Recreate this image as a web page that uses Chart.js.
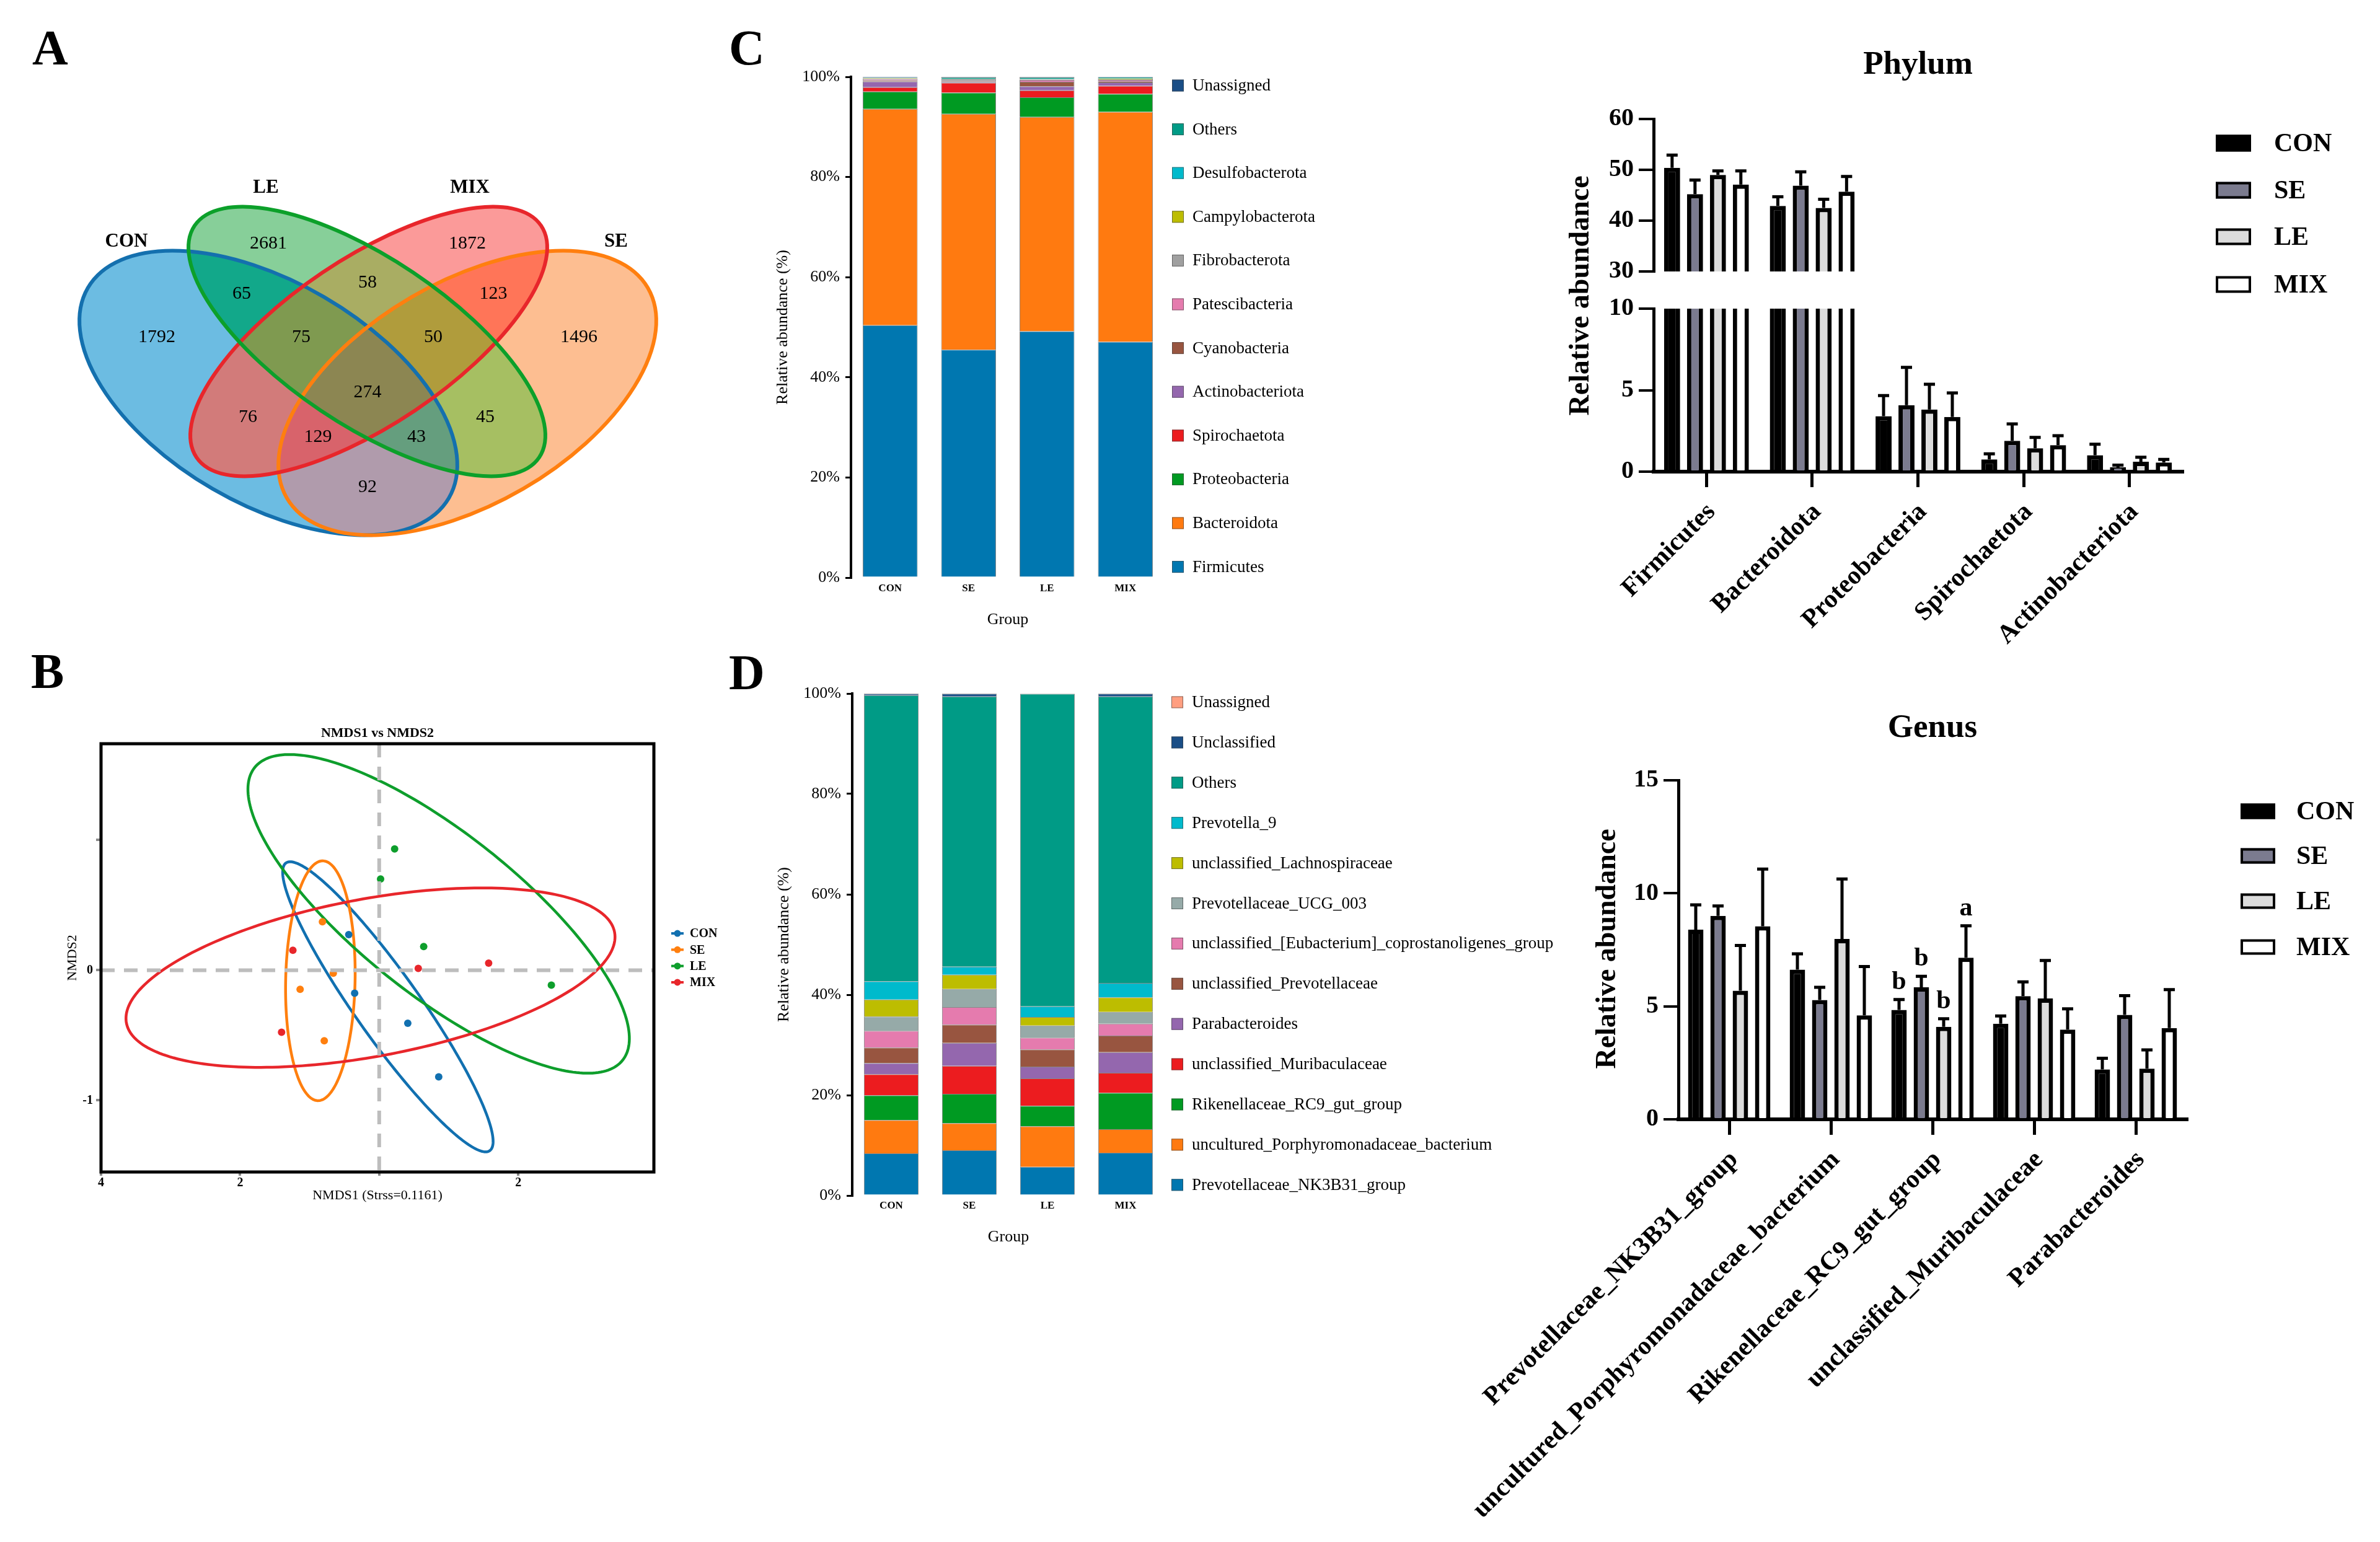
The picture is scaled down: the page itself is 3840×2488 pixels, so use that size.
<!DOCTYPE html>
<html>
<head>
<meta charset="utf-8">
<title>Gut microbiota composition</title>
<script src="https://cdn.jsdelivr.net/npm/chart.js@4.4.1/dist/chart.umd.min.js"></script>
<style>
html,body{margin:0;padding:0;background:#fff;}
#page{position:relative;width:3840px;height:2488px;background:#fff;overflow:hidden;}
#page canvas{position:absolute;}
.panel{position:absolute;font-family:'Liberation Serif','Times New Roman',serif;font-weight:bold;font-size:80px;line-height:80px;color:#000;}
</style>
</head>
<body>
<div id="page">
  <canvas id="venn" width="1150" height="1000" style="left:0px;top:0px;width:1150px;height:1000px"></canvas>
  <canvas id="phylumStack" width="1350" height="1050" style="left:1150px;top:0px;width:1350px;height:1050px"></canvas>
  <canvas id="genusStack" width="1400" height="1000" style="left:1150px;top:1050px;width:1400px;height:1000px"></canvas>
  <canvas id="phylumLow" width="1540" height="1100" style="left:2300px;top:0px;width:1540px;height:1100px"></canvas>
  <canvas id="phylumHigh" width="1540" height="470" style="left:2300px;top:0px;width:1540px;height:470px"></canvas>
  <canvas id="genusBars" width="1540" height="1368" style="left:2300px;top:1120px;width:1540px;height:1368px"></canvas>
  <canvas id="nmds" width="1180" height="950" style="left:0px;top:1050px;width:1180px;height:950px"></canvas>
  <div class="panel" style="left:52px;top:37px">A</div>
  <div class="panel" style="left:50px;top:1043px">B</div>
  <div class="panel" style="left:1176px;top:37px">C</div>
  <div class="panel" style="left:1176px;top:1045px">D</div>
</div>
<script>
// ===================== DATA =====================
const groups = ['CON', 'SE', 'LE', 'MIX'];

// A: Venn diagram (OTU counts)
const vennSets = ['CON', 'LE', 'MIX', 'SE'];
const vennRegions = ['CON', 'LE', 'MIX', 'SE', 'CON&LE', 'LE&MIX', 'MIX&SE', 'LE&SE', 'CON&MIX', 'CON&SE',
                     'CON&LE&MIX', 'LE&MIX&SE', 'CON&MIX&SE', 'CON&LE&SE', 'CON&LE&MIX&SE'];
const vennCounts = [1792, 2681, 1872, 1496, 65, 58, 123, 45, 76, 92, 75, 50, 129, 43, 274];

// B: NMDS
const nmdsCON = [[-0.438, 0.274], [-0.353, -0.176], [0.411, -0.407], [0.856, -0.819]];
const nmdsSE  = [[-0.816, 0.372], [-0.660, -0.023], [-1.137, -0.147], [-0.790, -0.542]];
const nmdsLE  = [[0.222, 0.932], [0.020, 0.701], [0.640, 0.182], [2.476, -0.115]];
const nmdsMIX = [[-1.241, 0.153], [0.562, 0.014], [1.574, 0.055], [-1.404, -0.476]];
// confidence ellipses: centre x, centre y, semi-axis 1 (dx, dy), semi-axis 2 (dx, dy)
const nmdsEllipseCON = [0.125, -0.281, 1.465, -1.105, -0.378, -0.143];
const nmdsEllipseSE  = [-0.846, -0.081, 0.036, 0.921, 0.499, -0.005];
const nmdsEllipseLE  = [0.855, 0.433, 2.646, -1.124, -0.721, -0.485];
const nmdsEllipseMIX = [-0.125, -0.057, 3.510, 0.348, 0.205, -0.595];
const nmdsXTicks = [-4, -2, 0, 2];
const nmdsXTickLabels = ['4', '2', '', '2'];
const nmdsYTicks = [-1, 0, 1];
const nmdsYTickLabels = ['-1', '0', ''];
const nmdsStress = '0.1161';

// C: phylum relative abundance (%), order CON, SE, LE, MIX
const phylumLayers = ['Firmicutes', 'Bacteroidota', 'Proteobacteria', 'Spirochaetota', 'Actinobacteriota',
  'Cyanobacteria', 'Patescibacteria', 'Fibrobacterota', 'Campylobacterota', 'Desulfobacterota', 'Others', 'Unassigned'];
const phylumLayerValues = [
  [50.40, 45.50, 49.20, 47.10],
  [43.20, 47.10, 42.80, 45.90],
  [3.46, 4.24, 3.91, 3.59],
  [0.87, 1.98, 1.41, 1.61],
  [1.15, 0.21, 0.78, 0.70],
  [0.25, 0.12, 0.91, 0.20],
  [0.21, 0.10, 0.37, 0.29],
  [0.12, 0.25, 0.10, 0.12],
  [0.10, 0.05, 0.05, 0.15],
  [0.05, 0.05, 0.05, 0.10],
  [0.10, 0.30, 0.32, 0.14],
  [0.09, 0.10, 0.10, 0.10]
];

// D: genus relative abundance (%), order CON, SE, LE, MIX
const genusLayers = ['Prevotellaceae_NK3B31_group', 'uncultured_Porphyromonadaceae_bacterium', 'Rikenellaceae_RC9_gut_group',
  'unclassified_Muribaculaceae', 'Parabacteroides', 'unclassified_Prevotellaceae', 'unclassified_[Eubacterium]_coprostanoligenes_group',
  'Prevotellaceae_UCG_003', 'unclassified_Lachnospiraceae', 'Prevotella_9', 'Others', 'Unclassified', 'Unassigned'];
const genusLayerValues = [
  [8.40, 9.01, 5.72, 8.52],
  [6.62, 5.39, 8.07, 4.69],
  [4.94, 5.85, 4.07, 7.24],
  [4.20, 5.59, 5.47, 3.99],
  [2.22, 4.57, 2.35, 4.12],
  [3.09, 3.62, 3.41, 3.29],
  [3.33, 3.50, 2.35, 2.39],
  [2.84, 3.62, 2.43, 2.34],
  [3.41, 2.84, 1.69, 2.89],
  [3.62, 1.61, 2.14, 2.88],
  [56.98, 53.80, 62.23, 57.05],
  [0.33, 0.58, 0.05, 0.58],
  [0.02, 0.02, 0.02, 0.02]
];
const percentTicks = [0, 20, 40, 60, 80, 100];

// Phylum bar chart (mean and SD, %)
const phylumTop = ['Firmicutes', 'Bacteroidota', 'Proteobacteria', 'Spirochaetota', 'Actinobacteriota'];
const phylumMeanCON = [50.4, 42.9, 3.40, 0.75, 1.01];
const phylumMeanSE  = [45.2, 46.9, 4.08, 1.89, 0.27];
const phylumMeanLE  = [49.0, 42.5, 3.81, 1.44, 0.61];
const phylumMeanMIX = [47.1, 45.7, 3.36, 1.63, 0.56];
const phylumSdCON = [2.5, 1.8, 1.27, 0.34, 0.67];
const phylumSdSE  = [2.8, 2.7, 2.32, 1.04, 0.13];
const phylumSdLE  = [0.8, 1.7, 1.55, 0.66, 0.27];
const phylumSdMIX = [2.7, 3.0, 1.47, 0.58, 0.19];

// Genus bar chart (mean and SD, %)
const genusTop = ['Prevotellaceae_NK3B31_group', 'uncultured_Porphyromonadaceae_bacterium', 'Rikenellaceae_RC9_gut_group',
  'unclassified_Muribaculaceae', 'Parabacteroides'];
const genusMeanCON = [8.39, 6.62, 4.84, 4.23, 2.21];
const genusMeanSE  = [9.00, 5.28, 5.84, 5.45, 4.62];
const genusMeanLE  = [5.69, 7.98, 4.09, 5.35, 2.24];
const genusMeanMIX = [8.54, 4.60, 7.15, 3.97, 4.04];
const genusSdCON = [1.10, 0.70, 0.46, 0.34, 0.49];
const genusSdSE  = [0.44, 0.56, 0.49, 0.63, 0.85];
const genusSdLE  = [2.00, 2.65, 0.36, 1.68, 0.83];
const genusSdMIX = [2.53, 2.16, 1.41, 0.92, 1.70];
const genusSigCON = ['', '', 'b', '', ''];
const genusSigSE  = ['', '', 'b', '', ''];
const genusSigLE  = ['', '', 'b', '', ''];
const genusSigMIX = ['', '', 'a', '', ''];

// ===================== STYLE / LAYOUT =====================
const SERIF = "'Liberation Serif','Times New Roman',serif";
Chart.defaults.font.family = SERIF;
Chart.defaults.color = '#000';
Chart.defaults.animation = false;
Chart.defaults.responsive = false;
Chart.defaults.maintainAspectRatio = false;
Chart.defaults.devicePixelRatio = 1;
Chart.defaults.events = [];
Chart.defaults.plugins.legend.display = false;
Chart.defaults.plugins.tooltip.enabled = false;

const GROUP_COLORS = ['#1170B0', '#FF7F0E', '#0E9E2C', '#E8262B'];
const BAR_FILLS = ['#000000', '#7B7B8F', '#DCDCDC', '#FFFFFF'];
const PHYLUM_COLORS = ['#0077B0', '#FF7A10', '#009A22', '#EC1C1F', '#9467AE', '#985540', '#E57BAE', '#A0A0A0',
  '#BDBD00', '#00BACC', '#009B86', '#1A4E86'];
const GENUS_COLORS = ['#0077B0', '#FF7A10', '#009A22', '#EC1C1F', '#9467AE', '#985540', '#E57BAE', '#96AAA8',
  '#BDBD00', '#00BACC', '#009B86', '#1A4E86', '#FF9E80'];

// Venn geometry (layout in the panel's own coordinate frame)
const VENN_SHAPES = {
  CON: {cx: 433, cy: 634, a: 337, b: 179, rot: 30.2, stroke: '#1470AE'},
  LE:  {cx: 592, cy: 551, a: 335, b: 134, rot: 33.9, stroke: '#0CA02A'},
  MIX: {cx: 595, cy: 551, a: 335, b: 134, rot: -33.9, stroke: '#E8262B'},
  SE:  {cx: 754, cy: 634, a: 337, b: 179, rot: -30.2, stroke: '#FF7F0F'}
};
const VENN_SET_LABEL_POS = {CON: [204, 390], LE: [429, 303], MIX: [758, 303], SE: [994, 390]};
const VENN_REGION_POS = [[253, 544], [433, 393], [754, 393], [934, 544], [390, 474], [593, 456], [796, 474], [783, 673],
  [400, 673], [593, 786], [486, 544], [699, 544], [513, 705], [672, 705], [593, 633]];
const VENN_REGION_COLORS = ['#6CBCE2', '#87CF99', '#FB9A99', '#FDBE91', '#12A88A', '#A9AD63', '#FF7558', '#A6BF62',
  '#D27B7A', '#B09BAC', '#7F9A50', '#B09C3C', '#D8636B', '#659E7E', '#8C8652'];

// ===================== A: VENN =====================
const vennPlugin = {
  id: 'venn',
  beforeDatasetsDraw(chart) {
    const {ctx, chartArea: A, scales: {x, y}} = chart;
    const sx = x.getPixelForValue(1) - x.getPixelForValue(0);
    const addEllipse = (e) => {
      const cx = x.getPixelForValue(e.cx), cy = y.getPixelForValue(e.cy), r = e.rot * Math.PI / 180;
      ctx.moveTo(cx + e.a * sx * Math.cos(r), cy + e.a * sx * Math.sin(r));
      ctx.ellipse(cx, cy, e.a * sx, e.b * sx, r, 0, Math.PI * 2);
    };
    vennRegions.forEach((reg, i) => {
      const members = reg.split('&');
      ctx.save();
      vennSets.forEach(s => {
        ctx.beginPath();
        if (members.includes(s)) {
          addEllipse(VENN_SHAPES[s]);
          ctx.clip();
        } else {
          ctx.rect(A.left, A.top, A.right - A.left, A.bottom - A.top);
          addEllipse(VENN_SHAPES[s]);
          ctx.clip('evenodd');
        }
      });
      ctx.fillStyle = VENN_REGION_COLORS[i];
      ctx.fillRect(A.left, A.top, A.right - A.left, A.bottom - A.top);
      ctx.restore();
    });
    ctx.save();
    ctx.lineWidth = 6;
    ['CON', 'SE', 'MIX', 'LE'].forEach(s => {
      ctx.beginPath();
      addEllipse(VENN_SHAPES[s]);
      ctx.strokeStyle = VENN_SHAPES[s].stroke;
      ctx.stroke();
    });
    ctx.restore();
  },
  afterDatasetsDraw(chart) {
    const {ctx, scales: {x, y}} = chart;
    const meta = chart.getDatasetMeta(0);
    ctx.save();
    ctx.fillStyle = '#000';
    ctx.textAlign = 'center';
    ctx.textBaseline = 'middle';
    ctx.font = `30px ${SERIF}`;
    meta.data.forEach((pt, i) => ctx.fillText(String(vennCounts[i]), pt.x, pt.y));
    ctx.font = `bold 31px ${SERIF}`;
    vennSets.forEach(s => {
      const p = VENN_SET_LABEL_POS[s];
      ctx.fillText(s, x.getPixelForValue(p[0]), y.getPixelForValue(p[1]));
    });
    ctx.restore();
  }
};

new Chart(document.getElementById('venn'), {
  type: 'scatter',
  data: {datasets: [{label: 'regions', data: VENN_REGION_POS.map(p => ({x: p[0], y: p[1]})), pointRadius: 0}]},
  options: {
    layout: {padding: 0},
    scales: {
      x: {type: 'linear', min: 0, max: 1150, display: false},
      y: {type: 'linear', min: 0, max: 1000, reverse: true, display: false}
    }
  },
  plugins: [vennPlugin]
});

// ===================== B: NMDS =====================
const nmdsPointsByGroup = [nmdsCON, nmdsSE, nmdsLE, nmdsMIX];
const nmdsEllipses = [nmdsEllipseCON, nmdsEllipseSE, nmdsEllipseLE, nmdsEllipseMIX];

const nmdsPlugin = {
  id: 'nmdsDecor',
  beforeDatasetsDraw(chart) {
    const {ctx, scales: {x, y}} = chart;
    ctx.save();
    ctx.lineWidth = 4.5;
    nmdsEllipses.forEach((e, gi) => {
      ctx.beginPath();
      const n = 240;
      for (let k = 0; k <= n; k++) {
        const t = 2 * Math.PI * k / n;
        const dx = e[0] + e[2] * Math.cos(t) + e[4] * Math.sin(t);
        const dy = e[1] + e[3] * Math.cos(t) + e[5] * Math.sin(t);
        const px = x.getPixelForValue(dx), py = y.getPixelForValue(dy);
        if (k === 0) ctx.moveTo(px, py); else ctx.lineTo(px, py);
      }
      ctx.closePath();
      ctx.strokeStyle = GROUP_COLORS[gi];
      ctx.stroke();
    });
    ctx.restore();
  },
  afterDatasetsDraw(chart) {
    const {ctx, chartArea: A, scales: {x, y}} = chart;
    ctx.save();
    // zero reference lines
    ctx.strokeStyle = '#BDBDBD';
    ctx.lineWidth = 6;
    ctx.setLineDash([22, 15]);
    const x0 = x.getPixelForValue(0), y0 = y.getPixelForValue(0);
    ctx.beginPath(); ctx.moveTo(x0, A.top); ctx.lineTo(x0, A.bottom); ctx.stroke();
    ctx.beginPath(); ctx.moveTo(A.left, y0); ctx.lineTo(A.right, y0); ctx.stroke();
    ctx.setLineDash([]);
    // frame
    ctx.strokeStyle = '#000';
    ctx.lineWidth = 5;
    ctx.strokeRect(A.left, A.top, A.right - A.left, A.bottom - A.top);
    // title
    ctx.fillStyle = '#000';
    ctx.textAlign = 'center';
    ctx.textBaseline = 'middle';
    ctx.font = `bold 22px ${SERIF}`;
    ctx.fillText('NMDS1 vs NMDS2', (A.left + A.right) / 2, A.top - 17);
    // legend
    const lx = A.right + 38, cy = (A.top + A.bottom) / 2;
    ctx.textAlign = 'left';
    ctx.font = `bold 20px ${SERIF}`;
    chart.data.datasets.forEach((ds, i) => {
      const ly = cy + (i - 1.5) * 26.3;
      ctx.strokeStyle = ds.borderColor;
      ctx.fillStyle = ds.backgroundColor;
      ctx.lineWidth = 4;
      ctx.beginPath(); ctx.moveTo(lx - 10, ly); ctx.lineTo(lx + 10, ly); ctx.stroke();
      ctx.beginPath(); ctx.arc(lx, ly, 5.5, 0, Math.PI * 2); ctx.fill();
      ctx.fillStyle = '#000';
      ctx.fillText(ds.label, lx + 20, ly + 1);
    });
    ctx.restore();
  }
};

new Chart(document.getElementById('nmds'), {
  type: 'scatter',
  data: {
    datasets: groups.map((g, gi) => ({
      label: g,
      data: nmdsPointsByGroup[gi].map(p => ({x: p[0], y: p[1]})),
      backgroundColor: GROUP_COLORS[gi],
      borderColor: GROUP_COLORS[gi],
      pointRadius: 6,
      pointBorderWidth: 0
    }))
  },
  options: {
    layout: {padding: {left: 103.8, right: 125, top: 150, bottom: 57.8}},
    scales: {
      x: {
        type: 'linear', min: -4, max: 3.95,
        afterBuildTicks(s) { s.ticks = nmdsXTicks.map(v => ({value: v})); },
        ticks: {callback: (v, i) => nmdsXTickLabels[i], font: {size: 20, weight: 'bold'}, padding: 0, maxRotation: 0},
        grid: {display: true, drawOnChartArea: false, tickLength: 6, lineWidth: 4, color: '#8A8A8A'},
        border: {display: false},
        title: {display: true, text: `NMDS1 (Strss=${nmdsStress})`, font: {size: 22}, padding: 0},
        afterFit(s) { s.height = 51.2; }
      },
      y: {
        type: 'linear', min: -1.55, max: 1.74,
        afterBuildTicks(s) { s.ticks = nmdsYTicks.map(v => ({value: v})); },
        ticks: {callback: (v, i) => nmdsYTickLabels[i], font: {size: 20, weight: 'bold'}, padding: 5},
        grid: {display: true, drawOnChartArea: false, tickLength: 8, lineWidth: 4, color: '#8A8A8A'},
        border: {display: false},
        title: {display: true, text: 'NMDS2', font: {size: 22}, padding: 0},
        afterFit(s) { s.width = 59.2; }
      }
    }
  },
  plugins: [nmdsPlugin]
});

// ===================== C & D: stacked bars =====================
function stackLegendPlugin(dx, dy0, step) {
  return {
    id: 'stackLegend',
    afterDraw(chart) {
      const {ctx, chartArea: A} = chart;
      const ds = chart.data.datasets;
      const box = 19, x0 = A.right + dx;
      ctx.save();
      ctx.font = `27px ${SERIF}`;
      ctx.textAlign = 'left';
      ctx.textBaseline = 'middle';
      for (let i = 0; i < ds.length; i++) {
        const d = ds[ds.length - 1 - i];
        const yc = A.top + dy0 + i * step;
        ctx.fillStyle = d.backgroundColor;
        ctx.fillRect(x0, yc - box / 2, box, box);
        ctx.strokeStyle = 'rgba(60,60,60,0.6)';
        ctx.lineWidth = 1;
        ctx.strokeRect(x0 + 0.5, yc - box / 2 + 0.5, box - 1, box - 1);
        ctx.fillStyle = '#000';
        ctx.fillText(d.label, x0 + box + 14, yc + 1);
      }
      ctx.restore();
    }
  };
}

function stackedChart(id, layers, values, colors, geom) {
  return new Chart(document.getElementById(id), {
    type: 'bar',
    data: {
      labels: groups,
      datasets: layers.map((name, i) => ({
        label: name,
        data: values[i],
        backgroundColor: colors[i],
        borderColor: 'rgba(40,40,40,0.55)',
        borderWidth: 1,
        barPercentage: 0.7,
        categoryPercentage: 1
      }))
    },
    options: {
      layout: {padding: geom.padding},
      scales: {
        x: {
          stacked: true,
          grid: {display: false, drawTicks: false},
          border: {display: false},
          ticks: {font: {size: 17, weight: 'bold'}, padding: geom.xPad},
          title: {display: true, text: 'Group', font: {size: 26}, padding: 0},
          afterFit(s) { s.height = geom.xHeight; }
        },
        y: {
          stacked: true, min: 0, max: 100,
          afterBuildTicks(s) { s.ticks = percentTicks.map(v => ({value: v})); },
          ticks: {callback: v => v + '%', font: {size: 26}, padding: 9},
          grid: {display: true, drawOnChartArea: false, tickLength: 9, lineWidth: 3, color: '#000'},
          border: {display: true, width: 4, color: '#000'},
          title: {display: true, text: 'Relative abundance (%)', font: {size: 26}, padding: 0},
          afterFit(s) { s.width = 125; }
        }
      }
    },
    plugins: [stackLegendPlugin(geom.legDx, 14, geom.legStep)]
  });
}

stackedChart('phylumStack', phylumLayers, phylumLayerValues, PHYLUM_COLORS,
  {padding: {left: 98, right: 621, top: 124, bottom: 34}, xHeight: 84, xPad: 7, legDx: 12, legStep: 70.6});
stackedChart('genusStack', genusLayers, genusLayerValues, GENUS_COLORS,
  {padding: {left: 100, right: 671, top: 69, bottom: 38}, xHeight: 83, xPad: 6, legDx: 11, legStep: 64.9});

// ===================== Grouped bar charts with error bars =====================
const errorBarPlugin = {
  id: 'errorBars',
  afterDatasetsDraw(chart) {
    const {ctx, scales: {y}} = chart;
    ctx.save();
    ctx.strokeStyle = '#000';
    ctx.fillStyle = '#000';
    ctx.lineWidth = 5;
    chart.data.datasets.forEach((ds, di) => {
      const meta = chart.getDatasetMeta(di);
      meta.data.forEach((bar, i) => {
        const v = ds.data[i], e = ds.errorBars[i];
        if (v > y.max || v < y.min) return;
        const yb = y.getPixelForValue(v), yt = y.getPixelForValue(v + e);
        ctx.beginPath();
        ctx.moveTo(bar.x, yb); ctx.lineTo(bar.x, yt);
        ctx.moveTo(bar.x - 9, yt); ctx.lineTo(bar.x + 9, yt);
        ctx.stroke();
        if (ds.sig && ds.sig[i]) {
          ctx.font = `bold 42px ${SERIF}`;
          ctx.textAlign = 'center';
          ctx.textBaseline = 'middle';
          ctx.fillText(ds.sig[i], bar.x, yt - 28);
        }
      });
    });
    ctx.restore();
  }
};

function barDecorPlugin(cfg) {
  return {
    id: 'barDecor',
    afterDraw(chart) {
      const {ctx, chartArea: A} = chart;
      ctx.save();
      ctx.fillStyle = '#000';
      ctx.textAlign = 'center';
      ctx.textBaseline = 'middle';
      ctx.font = `bold 53px ${SERIF}`;
      ctx.fillText(cfg.title, (A.left + A.right) / 2, cfg.titleY);
      ctx.save();
      ctx.translate(cfg.yTitle[0], cfg.yTitle[1]);
      ctx.rotate(-Math.PI / 2);
      ctx.font = `bold 46px ${SERIF}`;
      ctx.fillText('Relative abundance', 0, 0);
      ctx.restore();
      ctx.textAlign = 'left';
      ctx.font = `bold 42px ${SERIF}`;
      chart.data.datasets.forEach((ds, i) => {
        const yc = cfg.legY[i];
        ctx.fillStyle = ds.backgroundColor;
        ctx.fillRect(cfg.legX, yc - cfg.legH / 2, cfg.legW, cfg.legH);
        ctx.strokeStyle = '#000';
        ctx.lineWidth = 4;
        ctx.strokeRect(cfg.legX + 2, yc - cfg.legH / 2 + 2, cfg.legW - 4, cfg.legH - 4);
        ctx.fillStyle = '#000';
        ctx.fillText(ds.label, cfg.textX, yc + 2);
      });
      ctx.restore();
    }
  };
}

function groupedBars(id, cats, means, sds, cfg) {
  const xScale = cfg.showX ? {
    grid: {display: true, drawOnChartArea: false, offset: false, tickLength: 25, lineWidth: 5, color: '#000'},
    border: {display: true, width: 6, color: '#000'},
    ticks: {font: {size: 42, weight: 'bold'}, minRotation: 45, maxRotation: 45, autoSkip: false, labelOffset: 8, padding: 16},
    afterFit(s) { s.height = cfg.xHeight; }
  } : {display: false};
  return new Chart(document.getElementById(id), {
    type: 'bar',
    data: {
      labels: cats,
      datasets: groups.map((g, gi) => ({
        label: g,
        data: means[gi],
        errorBars: sds[gi],
        sig: cfg.sig ? cfg.sig[gi] : null,
        backgroundColor: BAR_FILLS[gi],
        borderColor: '#000',
        borderWidth: 7,
        barPercentage: cfg.barPct,
        categoryPercentage: cfg.catPct,
        clip: 0
      }))
    },
    options: {
      layout: {padding: cfg.padding},
      scales: {
        x: xScale,
        y: {
          min: cfg.min, max: cfg.max,
          ticks: {stepSize: cfg.step, font: {size: 40, weight: 'bold'}, padding: 8},
          grid: {display: true, drawOnChartArea: false, tickLength: 24, lineWidth: 4, color: '#000'},
          border: {display: true, width: 5, color: '#000'},
          afterFit(s) { s.width = 120; }
        }
      }
    },
    plugins: [errorBarPlugin].concat(cfg.plugins || [])
  });
}

const phylumMeans = [phylumMeanCON, phylumMeanSE, phylumMeanLE, phylumMeanMIX];
const phylumSds = [phylumSdCON, phylumSdSE, phylumSdLE, phylumSdMIX];

groupedBars('phylumLow', phylumTop, phylumMeans, phylumSds, {
  showX: true, xHeight: 330, min: 0, max: 10, step: 5, barPct: 0.70, catPct: 0.867,
  padding: {left: 248, right: 319, top: 498, bottom: 9},
  plugins: [barDecorPlugin({title: 'Phylum', titleY: 105, yTitle: [251, 477], legX: 1275, legW: 57, legH: 27,
    legY: [231, 307, 382, 459], textX: 1369})]
});
groupedBars('phylumHigh', phylumTop, phylumMeans, phylumSds, {
  showX: false, min: 30, max: 60, step: 10, barPct: 0.70, catPct: 0.867,
  padding: {left: 248, right: 319, top: 192, bottom: 13}
});

groupedBars('genusBars', genusTop,
  [genusMeanCON, genusMeanSE, genusMeanLE, genusMeanMIX],
  [genusSdCON, genusSdSE, genusSdLE, genusSdMIX], {
  showX: true, xHeight: 680, min: 0, max: 15, step: 5, barPct: 0.69, catPct: 0.878,
  sig: [genusSigCON, genusSigSE, genusSigLE, genusSigMIX],
  padding: {left: 288, right: 312, top: 139, bottom: 2},
  plugins: [barDecorPlugin({title: 'Genus', titleY: 55, yTitle: [294, 411], legX: 1315, legW: 56, legH: 25,
    legY: [189, 261, 334, 408], textX: 1405})]
});
</script>
</body>
</html>
